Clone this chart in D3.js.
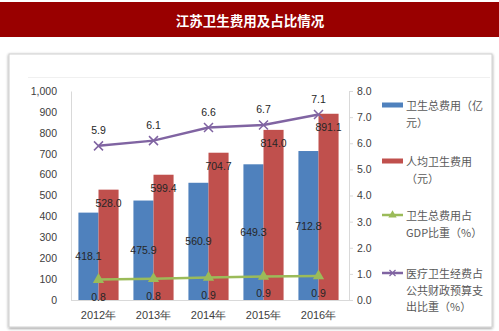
<!DOCTYPE html>
<html><head><meta charset="utf-8">
<script src="https://cdn.jsdelivr.net/npm/d3@7"></script>
<style>
html,body{margin:0;padding:0;background:#fff;}
svg{display:block;}
</style></head>
<body>
<svg id="c" width="499" height="331"></svg>
<script>
const title = "江苏卫生费用及占比情况";
const years = ["2012年","2013年","2014年","2015年","2016年"];
const totalCost = [418.1, 475.9, 560.9, 649.3, 712.8];      // 卫生总费用（亿元）
const perCapita = [528.0, 599.4, 704.7, 814.0, 891.1];      // 人均卫生费用（元）
const gdpShare = [0.78, 0.81, 0.86, 0.9, 0.92];             // 卫生总费用占GDP比重（%）
const budgetShare = [5.9, 6.1, 6.6, 6.7, 7.1];              // 医疗卫生经费占公共财政预算支出比重（%）
const leftTicks = [0,100,200,300,400,500,600,700,800,900,1000];
const rightTicks = [0,1,2,3,4,5,6,7,8];
const legendItems = [
  {type:"bar", color:"#4F81BD", lines:["卫生总费用（亿","元）"]},
  {type:"bar", color:"#C0504D", lines:["人均卫生费用","（元）"]},
  {type:"tri", color:"#9BBB59", lines:["卫生总费用占","GDP比重（%）"]},
  {type:"x",   color:"#8064A2", lines:["医疗卫生经费占","公共财政预算支","出比重（%）"]}
];

const svg = d3.select("#c");
const F = "'Liberation Sans', Arial, sans-serif";
const CJK = "'Noto Sans CJK SC', sans-serif";

// title band
svg.append("rect").attr("x",0).attr("y",2).attr("width",499).attr("height",35).attr("fill","#990000");
svg.append("text").attr("x",250).attr("y",20).attr("text-anchor","middle").attr("dominant-baseline","central")
  .attr("fill","#fff").attr("font-family",CJK).attr("font-weight","bold").attr("font-size",13.5).text(title);

// chart box with shadow
const defs = svg.append("defs");
const flt = defs.append("filter").attr("id","sh").attr("x","-5%").attr("y","-5%").attr("width","110%").attr("height","110%");
flt.append("feGaussianBlur").attr("in","SourceAlpha").attr("stdDeviation",1.5);
flt.append("feOffset").attr("dx",0).attr("dy",0.5).attr("result","b");
flt.append("feComponentTransfer").append("feFuncA").attr("type","linear").attr("slope",0.45);
const fm = flt.append("feMerge"); fm.append("feMergeNode"); fm.append("feMergeNode").attr("in","SourceGraphic");
svg.append("rect").attr("x",9).attr("y",54).attr("width",483).attr("height",273)
  .attr("fill","#fff").attr("stroke","#d0d0d0").attr("stroke-width",1).attr("filter","url(#sh)");
svg.append("line").attr("x1",28).attr("x2",490).attr("y1",77.5).attr("y2",77.5).attr("stroke","#f0f0f0");

const x0 = 71, x1 = 346, yB = 300, yT = 91;
const x = d3.scaleBand().domain(years).range([x0, x1]).paddingInner(0.27).paddingOuter(0.135);
const xs = d3.scaleBand().domain(["a","b"]).range([0, x.bandwidth()]);
const yL = d3.scaleLinear().domain([0,1000]).range([yB, yT]);
const yR = d3.scaleLinear().domain([0,8]).range([yB, yT]);

// axes
const gL = svg.append("g").attr("transform",`translate(${x0},0)`)
  .call(d3.axisLeft(yL).tickValues(leftTicks).tickSize(0).tickPadding(14).tickFormat(d3.format(",")));
gL.select(".domain").attr("stroke","#d9d9d9");
gL.selectAll("text").attr("font-family",F).attr("font-size",10.5).attr("fill","#404040");

const gR = svg.append("g").attr("transform",`translate(349,0)`)
  .call(d3.axisRight(yR).tickValues(rightTicks).tickSize(4).tickPadding(4).tickFormat(d3.format(".1f")));
gR.select(".domain").attr("stroke","#d9d9d9");
gR.selectAll(".tick line").attr("stroke","#d9d9d9");
gR.selectAll("text").attr("font-family",F).attr("font-size",10.5).attr("fill","#404040");

// bars
const bars = svg.append("g");
years.forEach((yr,i)=>{
  bars.append("rect").attr("x",x(yr)+xs("a")).attr("width",xs.bandwidth())
    .attr("y",yL(totalCost[i])).attr("height",yB-yL(totalCost[i])).attr("fill","#4F81BD");
  bars.append("rect").attr("x",x(yr)+xs("b")).attr("width",xs.bandwidth())
    .attr("y",yL(perCapita[i])).attr("height",yB-yL(perCapita[i])).attr("fill","#C0504D");
});

const gB = svg.append("g").attr("transform",`translate(0,${yB})`)
  .call(d3.axisBottom(x).tickSize(0).tickPadding(11));
gB.select(".domain").attr("d",`M0,0.5H${349-0}`).attr("transform",`translate(${x0},0)`).attr("d",`M0,0.5H${349-x0}`).attr("stroke","#d9d9d9");
gB.selectAll("text").attr("font-family",F).attr("font-size",11).attr("fill","#404040");

const cx = yr => x(yr) + x.bandwidth()/2;
const lab = svg.append("g").attr("font-family",F).attr("font-size",10.5).attr("fill","#262626").attr("text-anchor","middle");
years.forEach((yr,i)=>{
  lab.append("text").attr("x",x(yr)+xs("a")+xs.bandwidth()/2).attr("y",(yL(totalCost[i])+yB)/2)
    .attr("dominant-baseline","central").text(d3.format(".1f")(totalCost[i]));
  lab.append("text").attr("x",x(yr)+xs("b")+xs.bandwidth()/2).attr("y",yL(perCapita[i])+13)
    .attr("dominant-baseline","central").text(d3.format(".1f")(perCapita[i]));
});

// green line
const lineG = d3.line().x((d,i)=>cx(years[i])).y(d=>yR(d));
svg.append("path").datum(gdpShare).attr("d",lineG).attr("fill","none").attr("stroke","#9BBB59").attr("stroke-width",2.5);
const tri = d3.symbol().type(d3.symbolTriangle).size(55);
gdpShare.forEach((v,i)=>{
  svg.append("path").attr("d",tri).attr("transform",`translate(${cx(years[i])},${yR(v)})`).attr("fill","#9BBB59");
  lab.append("text").attr("x",cx(years[i])).attr("y",yR(v)+17).attr("dominant-baseline","central").text(d3.format(".1f")(v));
});

// purple line
svg.append("path").datum(budgetShare).attr("d",lineG).attr("fill","none").attr("stroke","#8064A2").attr("stroke-width",2.5);
budgetShare.forEach((v,i)=>{
  const px = cx(years[i]), py = yR(v), s=4.5;
  svg.append("path").attr("d",`M${px-s},${py-s}L${px+s},${py+s}M${px-s},${py+s}L${px+s},${py-s}`)
    .attr("stroke","#8064A2").attr("stroke-width",1.5).attr("fill","none");
  lab.append("text").attr("x",px).attr("y",py-16).attr("dominant-baseline","central").text(d3.format(".1f")(v));
});

// legend
const legY = [105, 161, 215, 273];
const lg = svg.append("g");
legendItems.forEach((it,k)=>{
  const y = legY[k];
  if (it.type==="bar") {
    lg.append("rect").attr("x",382).attr("y",y-2.5).attr("width",21).attr("height",5).attr("fill",it.color);
  } else {
    lg.append("line").attr("x1",382).attr("x2",403).attr("y1",y).attr("y2",y).attr("stroke",it.color).attr("stroke-width",2.5);
    if (it.type==="tri") lg.append("path").attr("d",d3.symbol().type(d3.symbolTriangle).size(30)).attr("transform",`translate(392.5,${y})`).attr("fill",it.color);
    else { const s=3; lg.append("path").attr("d",`M${392.5-s},${y-s}L${392.5+s},${y+s}M${392.5-s},${y+s}L${392.5+s},${y-s}`).attr("stroke",it.color).attr("stroke-width",1.2); }
  }
  it.lines.forEach((t,j)=>{
    lg.append("text").attr("x",406).attr("y",y+j*16.5).attr("dominant-baseline","central")
      .attr("font-family",CJK).attr("font-size",11).attr("fill","#595959").text(t);
  });
});
</script>
</body></html>
